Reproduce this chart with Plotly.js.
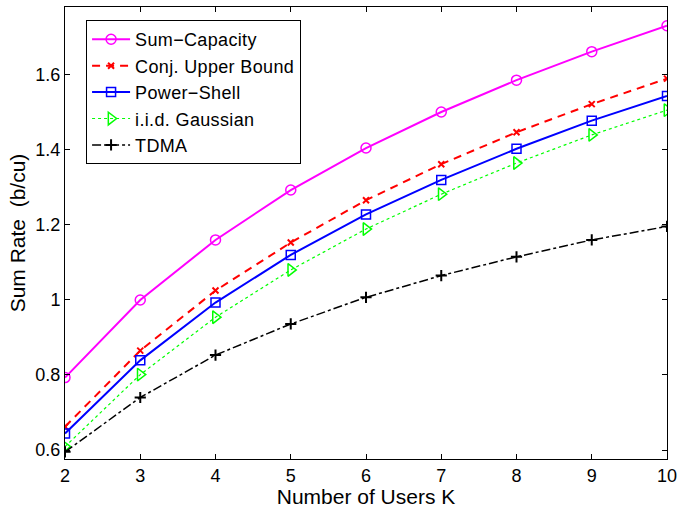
<!DOCTYPE html>
<html><head><meta charset="utf-8">
<script src="https://cdn.plot.ly/plotly-3.0.1.min.js"></script>
<style>body{margin:0;background:#fff}#chart{width:677px;height:508px}.legendtext{letter-spacing:0.35px}</style>
</head><body><div id="chart"></div>
<script>
const users = [2, 3, 4, 5, 6, 7, 8, 9, 10];
const sumCapacity = [0.793, 1.000, 1.160, 1.293, 1.405, 1.501, 1.586, 1.662, 1.731];
const conjUpper   = [0.662, 0.865, 1.025, 1.153, 1.266, 1.362, 1.447, 1.522, 1.590];
const powerShell  = [0.644, 0.839, 0.993, 1.120, 1.228, 1.320, 1.403, 1.478, 1.544];
const iidGaussian = [0.609, 0.801, 0.954, 1.080, 1.189, 1.282, 1.365, 1.440, 1.506];
const tdma        = [0.595, 0.740, 0.853, 0.936, 1.007, 1.065, 1.115, 1.160, 1.196];
const yTicks = [0.6, 0.8, 1.0, 1.2, 1.4, 1.6];
const yTickText = ['0.6', '0.8', '1', '1.2', '1.4', '1.6'];

const traces = [
  {x: users, y: sumCapacity, name: 'Sum\u2212Capacity', mode: 'lines+markers',
   line: {color: '#ff00ff', width: 2}, marker: {symbol: 'circle-open', size: 10, color: '#ff00ff', line: {width: 1.5}}},
  {x: users, y: conjUpper, name: 'Conj. Upper Bound', mode: 'lines+markers',
   line: {color: '#ff0000', width: 2, dash: '8px,6px'}, marker: {symbol: 'x-thin-open', size: 6, color: '#ff0000', line: {width: 2, color: '#ff0000'}}},
  {x: users, y: powerShell, name: 'Power\u2212Shell', mode: 'lines+markers',
   line: {color: '#0000ff', width: 2}, marker: {symbol: 'square-open', size: 9, color: '#0000ff', line: {width: 1.5}}},
  {x: users, y: iidGaussian, name: 'i.i.d. Gaussian', mode: 'lines+markers',
   line: {color: '#00ff00', width: 1.2, dash: 'dot'}, marker: {symbol: 'triangle-right-open', size: 11, color: '#00ff00', line: {width: 1.5}}},
  {x: users, y: tdma, name: 'TDMA', mode: 'lines+markers',
   line: {color: '#000000', width: 1.5, dash: 'dashdot'}, marker: {symbol: 'cross-thin-open', size: 8, color: '#000000', line: {width: 2, color: '#000000'}}}
];

const fam = 'Liberation Sans, Arial, Helvetica, sans-serif';
const layout = {
  width: 677, height: 508,
  margin: {l: 65, r: 10, t: 7, b: 49},
  paper_bgcolor: '#fff', plot_bgcolor: '#fff',
  font: {family: fam, size: 18, color: '#000'},
  showlegend: true,
  legend: {x: 0.035, y: 0.971, xanchor: 'left', yanchor: 'top',
           bordercolor: '#000', borderwidth: 1, bgcolor: '#fff', itemwidth: 38,
           font: {family: fam, size: 18, color: '#000'}, tracegroupgap: 0},
  xaxis: {range: [2, 10], tickvals: users, ticks: 'inside', ticklen: 5, tickcolor: '#000',
          showline: true, linecolor: '#000', linewidth: 1, mirror: 'ticks', showgrid: false, zeroline: false,
          ticklabeloverflow: 'allow',
          title: {text: 'Number of Users K', font: {family: fam, size: 21}, standoff: 2},
          tickfont: {size: 18}},
  yaxis: {range: [0.576, 1.781], tickvals: yTicks, ticktext: yTickText, ticks: 'inside', ticklen: 5, tickcolor: '#000',
          showline: true, linecolor: '#000', linewidth: 1, mirror: 'ticks', showgrid: false, zeroline: false,
          title: {text: 'Sum Rate\u00a0\u00a0(b/cu)', font: {family: fam, size: 21}, standoff: 4},
          tickfont: {size: 18}}
};
Plotly.newPlot('chart', traces, layout, {displayModeBar: false, staticPlot: true});
</script></body></html>
